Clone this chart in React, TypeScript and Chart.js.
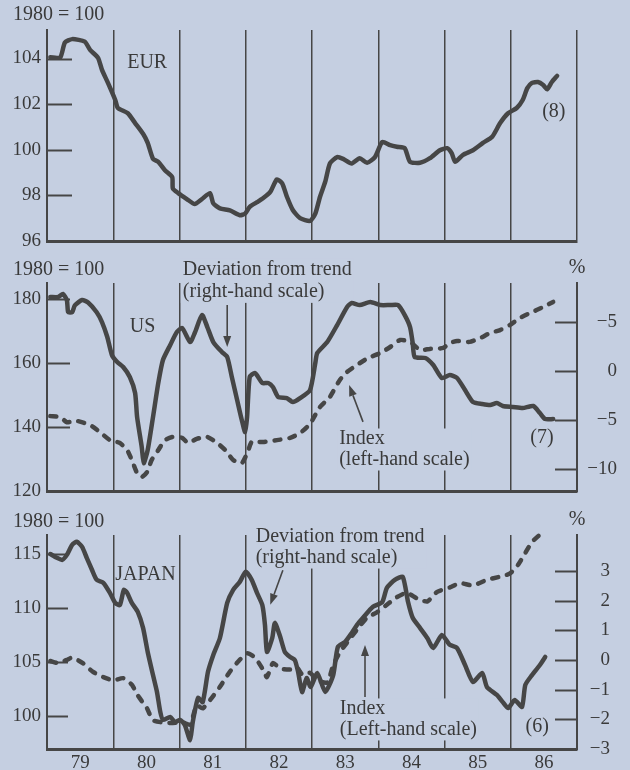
import React, { useEffect, useRef } from "react";
import { Chart, registerables } from "chart.js";
Chart.register(...registerables);

const BG = "#c5cfe1";
const INK = "#464646";
const TEXT = "#3a3a3a";
const FONT = "'Liberation Serif', 'DejaVu Serif', serif";
const FS = 19;
const ANN_FS = 20;

// ---------- X axis (years) ----------
const yearBounds = [1979, 1980, 1981, 1982, 1983, 1984, 1985, 1986, 1987];
const yearLabels = ["79", "80", "81", "82", "83", "84", "85", "86"];

// ---------- EUR (index, 1980 = 100) ----------
const eurX = [1979.05, 1979.2, 1979.27, 1979.38, 1979.57, 1979.65, 1979.77, 1979.83, 1979.92, 1980.03, 1980.07, 1980.22, 1980.33, 1980.45, 1980.52, 1980.6, 1980.68, 1980.78, 1980.89, 1980.9, 1980.98, 1981.11, 1981.23, 1981.34, 1981.46, 1981.51, 1981.61, 1981.76, 1981.91, 1981.99, 1982.06, 1982.17, 1982.26, 1982.37, 1982.47, 1982.55, 1982.62, 1982.71, 1982.82, 1982.97, 1983.05, 1983.12, 1983.2, 1983.27, 1983.38, 1983.47, 1983.6, 1983.72, 1983.83, 1983.95, 1984.06, 1984.18, 1984.28, 1984.4, 1984.48, 1984.63, 1984.78, 1984.93, 1985.04, 1985.11, 1985.16, 1985.28, 1985.43, 1985.58, 1985.72, 1985.84, 1985.96, 1986.09, 1986.18, 1986.25, 1986.32, 1986.41, 1986.49, 1986.55, 1986.62, 1986.7];
const eurIndex = [104.06, 104.05, 104.7, 104.85, 104.74, 104.38, 104.03, 103.5, 102.93, 102.18, 101.83, 101.6, 101.17, 100.7, 100.3, 99.6, 99.47, 99.1, 98.8, 98.3, 98.1, 97.84, 97.62, 97.84, 98.1, 97.65, 97.43, 97.34, 97.13, 97.2, 97.5, 97.7, 97.87, 98.15, 98.7, 98.53, 97.95, 97.36, 97.0, 96.88, 97.2, 97.93, 98.6, 99.4, 99.68, 99.6, 99.4, 99.63, 99.43, 99.68, 100.34, 100.2, 100.13, 100.07, 99.47, 99.43, 99.63, 99.98, 100.07, 99.84, 99.47, 99.78, 99.98, 100.3, 100.57, 101.17, 101.6, 101.83, 102.18, 102.7, 102.93, 102.97, 102.84, 102.65, 102.97, 103.24];

// ---------- US ----------
const usDevX = [1979.05, 1979.17, 1979.24, 1979.3, 1979.32, 1979.38, 1979.42, 1979.53, 1979.62, 1979.75, 1979.83, 1979.91, 1979.98, 1980.06, 1980.15, 1980.25, 1980.33, 1980.36, 1980.43, 1980.46, 1980.52, 1980.6, 1980.68, 1980.75, 1980.86, 1980.96, 1981.04, 1981.16, 1981.23, 1981.34, 1981.42, 1981.51, 1981.64, 1981.72, 1981.79, 1981.87, 1981.94, 1981.99, 1982.02, 1982.06, 1982.14, 1982.25, 1982.34, 1982.41, 1982.49, 1982.62, 1982.71, 1982.82, 1982.97, 1983.05, 1983.08, 1983.23, 1983.38, 1983.53, 1983.6, 1983.72, 1983.88, 1984.03, 1984.18, 1984.3, 1984.4, 1984.48, 1984.52, 1984.55, 1984.71, 1984.83, 1984.96, 1985.08, 1985.19, 1985.31, 1985.43, 1985.57, 1985.69, 1985.79, 1985.88, 1986.03, 1986.18, 1986.34, 1986.44, 1986.52, 1986.64];
const usDeviation = [7.55, 7.55, 7.86, 7.24, 6.0, 6.0, 6.7, 7.24, 7.0, 6.0, 5.0, 3.47, 1.63, 0.92, 0.41, -0.61, -2.24, -4.7, -7.76, -9.4, -8.06, -4.7, -1.22, 1.12, 2.65, 3.98, 4.39, 2.96, 3.88, 5.71, 4.49, 2.96, 1.94, 1.43, -0.61, -2.96, -5.0, -6.22, -4.7, -0.61, -0.2, -1.22, -1.22, -1.63, -2.65, -2.76, -3.16, -2.76, -1.94, 0.82, 1.84, 2.96, 4.69, 6.53, 6.94, 6.73, 7.04, 6.73, 6.73, 6.73, 5.71, 4.49, 2.86, 1.43, 1.33, 0.61, -0.71, -0.41, -0.71, -1.94, -3.16, -3.37, -3.47, -3.27, -3.57, -3.67, -3.78, -3.57, -4.29, -4.9, -4.9];
const usIdxX = [1979.05, 1979.2, 1979.3, 1979.45, 1979.65, 1979.8, 1979.95, 1980.1, 1980.21, 1980.28, 1980.36, 1980.43, 1980.51, 1980.58, 1980.68, 1980.78, 1980.9, 1981.04, 1981.13, 1981.26, 1981.42, 1981.57, 1981.69, 1981.81, 1981.94, 1982.03, 1982.09, 1982.26, 1982.47, 1982.67, 1982.82, 1982.97, 1983.12, 1983.27, 1983.42, 1983.53, 1983.68, 1983.85, 1984.03, 1984.18, 1984.33, 1984.48, 1984.63, 1984.78, 1984.98, 1985.08, 1985.19, 1985.38, 1985.54, 1985.69, 1985.84, 1985.99, 1986.14, 1986.29, 1986.49, 1986.64];
const usIndex = [143.4, 143.1, 141.5, 141.9, 140.6, 138.4, 135.9, 135.0, 132.8, 129.7, 125.6, 124.4, 125.9, 129.7, 132.8, 135.9, 136.9, 136.6, 135.0, 136.3, 136.9, 135.0, 132.8, 129.7, 128.75, 132.2, 135.3, 135.3, 135.9, 136.6, 138.1, 141.0, 146.25, 149.4, 154.7, 157.2, 159.4, 161.6, 163.1, 165.0, 167.2, 166.6, 164.1, 164.4, 164.7, 166.25, 166.9, 166.6, 167.8, 169.4, 170.3, 171.9, 174.1, 175.6, 177.5, 179.1];

// ---------- JAPAN ----------
const jpDevX = [1979.05, 1979.15, 1979.23, 1979.3, 1979.38, 1979.45, 1979.53, 1979.6, 1979.68, 1979.75, 1979.85, 1979.95, 1980.03, 1980.1, 1980.16, 1980.21, 1980.28, 1980.37, 1980.45, 1980.52, 1980.6, 1980.66, 1980.71, 1980.75, 1980.86, 1980.93, 1981.01, 1981.08, 1981.16, 1981.2, 1981.28, 1981.35, 1981.43, 1981.51, 1981.61, 1981.72, 1981.81, 1981.91, 1982.0, 1982.09, 1982.17, 1982.25, 1982.29, 1982.32, 1982.4, 1982.44, 1982.52, 1982.59, 1982.67, 1982.74, 1982.79, 1982.85, 1982.92, 1982.98, 1983.08, 1983.2, 1983.32, 1983.39, 1983.5, 1983.6, 1983.68, 1983.77, 1983.92, 1984.06, 1984.13, 1984.25, 1984.37, 1984.45, 1984.52, 1984.63, 1984.74, 1984.83, 1984.96, 1985.08, 1985.19, 1985.31, 1985.43, 1985.57, 1985.64, 1985.79, 1985.88, 1985.96, 1986.06, 1986.17, 1986.22, 1986.32, 1986.44, 1986.52];
const jpDeviation = [3.57, 3.44, 3.37, 3.54, 3.88, 3.98, 3.81, 3.44, 3.03, 2.7, 2.6, 2.26, 1.92, 1.85, 2.36, 2.26, 1.92, 1.62, 1.08, 0.27, -0.51, -1.08, -1.75, -2.02, -1.92, -2.09, -2.02, -2.19, -2.7, -2.09, -1.28, -1.42, -0.4, 0.17, 0.74, 1.92, 2.36, 2.63, 2.97, 2.7, 2.26, 1.85, 1.18, 0.27, 0.74, 1.25, 0.78, 0.27, 0.1, 0.0, -0.4, -1.08, -0.61, -0.91, -0.44, -1.08, -0.51, 0.44, 0.61, 0.91, 1.18, 1.42, 1.79, 1.95, 2.43, 2.7, 2.8, 1.95, 1.42, 1.08, 0.74, 0.4, 0.84, 0.51, 0.4, -0.17, -0.74, -0.44, -0.91, -1.18, -1.42, -1.62, -1.35, -1.58, -0.84, -0.51, -0.17, 0.1];
const jpIdxX = [1979.05, 1979.17, 1979.3, 1979.38, 1979.54, 1979.69, 1979.85, 1980.0, 1980.15, 1980.28, 1980.37, 1980.51, 1980.6, 1980.75, 1980.9, 1981.05, 1981.16, 1981.26, 1981.35, 1981.49, 1981.61, 1981.76, 1981.88, 1982.02, 1982.14, 1982.26, 1982.32, 1982.41, 1982.52, 1982.67, 1982.77, 1982.86, 1982.97, 1983.08, 1983.23, 1983.32, 1983.42, 1983.53, 1983.68, 1983.83, 1983.98, 1984.13, 1984.28, 1984.43, 1984.58, 1984.74, 1984.89, 1985.08, 1985.23, 1985.43, 1985.64, 1985.84, 1985.99, 1986.11, 1986.22, 1986.32, 1986.44];
const jpIndex = [105.09, 104.9, 105.2, 105.4, 104.9, 104.1, 103.6, 103.3, 103.5, 102.9, 101.9, 100.7, 99.6, 99.4, 99.35, 99.4, 99.2, 101.0, 100.7, 101.7, 102.7, 104.1, 105.0, 105.8, 105.4, 104.3, 103.6, 104.9, 104.4, 104.3, 104.5, 103.8, 104.0, 103.3, 103.1, 104.7, 105.9, 106.8, 108.0, 109.1, 109.6, 110.3, 111.0, 111.4, 110.9, 110.6, 111.5, 111.9, 112.3, 112.1, 112.6, 112.9, 113.2, 114.0, 115.1, 116.1, 116.8];

// ---------- tick values / labels ----------
const eurTicks = [96, 98, 100, 102, 104];
const eurTickLabels = ["96", "98", "100", "102", "104"];
const usLeftTicks = [120, 140, 160, 180];
const usLeftLabels = ["120", "140", "160", "180"];
const usRightTicks = [-10, -5, 0, 5];
const usRightLabels = ["\u221210", "\u22125", "0", "\u22125"];
const jpLeftTicks = [100, 105, 110, 115];
const jpLeftLabels = ["100", "105", "110", "115"];
const jpRightTicks = [-3, -2, -1, 0, 1, 2, 3];
const jpRightLabels = ["\u22123", "\u22122", "\u22121", "0", "1", "2", "3"];

type Ann = { lines: string[]; x: number; y: number; align: CanvasTextAlign; lh?: number; bg?: boolean };
type Arrow = { from: [number, number]; to: [number, number] };
type Series = { xs: number[]; ys: number[]; axis: "yL" | "yR"; dashed: boolean };
type AxisCfg = { min: number; max: number; ticks: number[]; labels: string[]; inner: number[]; len: number; width: number; padding: number };
type PanelCfg = {
  top: number; height: number; areaTop: number; areaBottom: number; showYears: boolean;
  left: AxisCfg; right?: AxisCfg; rightPad: number;
  series: Series[]; anns: Ann[]; arrows: Arrow[];
  leftTitleY: number; rightTitleY?: number;
};

const panels: PanelCfg[] = [
  {
    top: 0, height: 250, areaTop: 30, areaBottom: 241, showYears: false,
    left: { min: 96, max: 105.25, ticks: eurTicks, labels: eurTickLabels, inner: [98, 100, 102, 104], len: 25, width: 47, padding: 6 },
    rightPad: 53,
    series: [{ xs: eurX, ys: eurIndex, axis: "yL", dashed: false }],
    anns: [
      { lines: ["EUR"], x: 1980.21, y: 103.8, align: "left" },
      { lines: ["(8)"], x: 1986.65, y: 101.66, align: "center" },
    ],
    arrows: [],
    leftTitleY: 15,
  },
  {
    top: 250, height: 255, areaTop: 33, areaBottom: 241, showYears: false,
    left: { min: 120, max: 185, ticks: usLeftTicks, labels: usLeftLabels, inner: [140, 160, 180], len: 23, width: 47, padding: 6 },
    right: { min: -12.24, max: 8.98, ticks: usRightTicks, labels: usRightLabels, inner: [-10, -5, 0, 5], len: 22, width: 40, padding: 6 },
    rightPad: 13,
    series: [
      { xs: usIdxX, ys: usIndex, axis: "yL", dashed: true },
      { xs: usDevX, ys: usDeviation, axis: "yR", dashed: false },
    ],
    anns: [
      { lines: ["US"], x: 1980.25, y: 171.25, align: "left" },
      { lines: ["Deviation from trend", "(right-hand scale)"], x: 1981.05, y: 189.1, align: "left", lh: 22, bg: true },
      { lines: ["Index", "(left-hand scale)"], x: 1983.41, y: 136.25, align: "left", lh: 21, bg: true },
      { lines: ["(7)"], x: 1986.47, y: 136.6, align: "center" },
    ],
    arrows: [
      { from: [1981.72, 178.1], to: [1981.72, 165] },
      { from: [1983.77, 141.6], to: [1983.56, 153.1] },
    ],
    leftTitleY: 20, rightTitleY: 18,
  },
  {
    top: 505, height: 265, areaTop: 30, areaBottom: 244, showYears: true,
    left: { min: 96.94, max: 116.76, ticks: jpLeftTicks, labels: jpLeftLabels, inner: [100, 105, 110, 115], len: 21, width: 47, padding: 6 },
    right: { min: -3, max: 4.21, ticks: jpRightTicks, labels: jpRightLabels, inner: [-3, -2, -1, 0, 1, 2, 3], len: 22, width: 33, padding: 6 },
    rightPad: 20,
    series: [
      { xs: jpIdxX, ys: jpIndex, axis: "yL", dashed: true },
      { xs: jpDevX, ys: jpDeviation, axis: "yR", dashed: false },
    ],
    anns: [
      { lines: ["JAPAN"], x: 1980.03, y: 113.06, align: "left" },
      { lines: ["Deviation from trend", "(right-hand scale)"], x: 1982.15, y: 116.57, align: "left", lh: 21, bg: true },
      { lines: ["Index", "(Left-hand scale)"], x: 1983.42, y: 100.65, align: "left", lh: 21, bg: true },
      { lines: ["(6)"], x: 1986.4, y: 98.98, align: "center" },
    ],
    arrows: [
      { from: [1982.56, 113.5], to: [1982.37, 110.3] },
      { from: [1983.8, 101.76], to: [1983.8, 106.57] },
    ],
    leftTitleY: 17, rightTitleY: 15,
  },
];

function makeDecor(cfg: PanelCfg) {
  return {
    id: "decor",
    beforeDatasetsDraw(chart: any) {
      const ctx: CanvasRenderingContext2D = chart.ctx;
      const a = chart.chartArea;
      const xS = chart.scales.x;
      const yL = chart.scales.yL;
      ctx.save();
      ctx.strokeStyle = INK;
      ctx.lineWidth = 2;
      for (const v of cfg.left.inner) {
        const py = Math.round(yL.getPixelForValue(v)) + 0.5;
        ctx.beginPath(); ctx.moveTo(a.left, py); ctx.lineTo(a.left + cfg.left.len, py); ctx.stroke();
      }
      if (cfg.right) {
        const yR = chart.scales.yR;
        for (const v of cfg.right.inner) {
          const py = Math.round(yR.getPixelForValue(v)) + 0.5;
          ctx.beginPath(); ctx.moveTo(a.right - cfg.right.len, py); ctx.lineTo(a.right, py); ctx.stroke();
        }
      }
      ctx.font = `${ANN_FS}px ${FONT}`;
      ctx.fillStyle = BG;
      for (const an of cfg.anns) {
        if (!an.bg) continue;
        const lh = an.lh ?? 21;
        const w = Math.max(...an.lines.map((l) => ctx.measureText(l).width));
        const px = xS.getPixelForValue(an.x);
        const py = yL.getPixelForValue(an.y);
        ctx.fillRect(px - 2, py - lh / 2, w + 4, lh * an.lines.length);
      }
      ctx.restore();
    },
    afterDatasetsDraw(chart: any) {
      const ctx: CanvasRenderingContext2D = chart.ctx;
      const a = chart.chartArea;
      const xS = chart.scales.x;
      const yL = chart.scales.yL;
      ctx.save();
      ctx.font = `${ANN_FS}px ${FONT}`;
      ctx.fillStyle = TEXT;
      ctx.textBaseline = "middle";
      for (const an of cfg.anns) {
        const lh = an.lh ?? 21;
        const px = xS.getPixelForValue(an.x);
        const py = yL.getPixelForValue(an.y);
        ctx.textAlign = an.align;
        an.lines.forEach((l, i) => ctx.fillText(l, px, py + i * lh));
      }
      ctx.textAlign = "left";
      ctx.fillText("1980 = 100", 13, cfg.leftTitleY);
      if (cfg.rightTitleY !== undefined) {
        ctx.textAlign = "center";
        ctx.fillText("%", a.right, cfg.rightTitleY);
      }
      ctx.strokeStyle = INK;
      ctx.fillStyle = INK;
      ctx.lineWidth = 1.6;
      for (const ar of cfg.arrows) {
        const x0 = xS.getPixelForValue(ar.from[0]);
        const y0 = yL.getPixelForValue(ar.from[1]);
        const x1 = xS.getPixelForValue(ar.to[0]);
        const y1 = yL.getPixelForValue(ar.to[1]);
        const ang = Math.atan2(y1 - y0, x1 - x0);
        const hl = 11, hw = 4;
        const bx = x1 - hl * Math.cos(ang), by = y1 - hl * Math.sin(ang);
        ctx.beginPath(); ctx.moveTo(x0, y0); ctx.lineTo(bx, by); ctx.stroke();
        ctx.beginPath();
        ctx.moveTo(x1, y1);
        ctx.lineTo(bx + hw * Math.sin(ang), by - hw * Math.cos(ang));
        ctx.lineTo(bx - hw * Math.sin(ang), by + hw * Math.cos(ang));
        ctx.closePath(); ctx.fill();
      }
      ctx.restore();
    },
  };
}

function buildXTicks(): number[] {
  const out: number[] = [];
  for (let i = 0; i < yearBounds.length; i++) {
    out.push(yearBounds[i]);
    if (i < yearLabels.length) out.push((yearBounds[i] + yearBounds[i + 1]) / 2);
  }
  return out;
}

function xLabel(v: number): string {
  for (let i = 0; i < yearLabels.length; i++) {
    if (Math.abs((yearBounds[i] + yearBounds[i + 1]) / 2 - v) < 1e-6) return yearLabels[i];
  }
  return "";
}

function yAxis(ax: AxisCfg, position: "left" | "right") {
  return {
    type: "linear",
    position,
    min: ax.min,
    max: ax.max,
    afterBuildTicks: (s: any) => { s.ticks = ax.ticks.map((v) => ({ value: v })); },
    afterFit: (s: any) => { s.width = ax.width; s.paddingTop = 0; s.paddingBottom = 0; },
    grid: { display: false, drawTicks: false },
    border: { display: true, color: INK, width: 2 },
    ticks: {
      padding: ax.padding,
      crossAlign: position === "left" ? "near" : "far",
      color: TEXT,
      font: { family: FONT, size: FS },
      callback: (v: number) => {
        const i = ax.ticks.indexOf(v);
        return i >= 0 ? ax.labels[i] : "";
      },
    },
  };
}

function Panel({ cfg }: { cfg: PanelCfg }) {
  const ref = useRef<HTMLCanvasElement>(null);
  useEffect(() => {
    const xTicks = buildXTicks();
    const scales: any = {
      x: {
        type: "linear",
        min: yearBounds[0],
        max: yearBounds[yearBounds.length - 1],
        afterBuildTicks: (s: any) => { s.ticks = xTicks.map((v) => ({ value: v })); },
        afterFit: (s: any) => { s.height = cfg.height - cfg.areaBottom; s.paddingLeft = 0; s.paddingRight = 0; },
        grid: {
          drawTicks: false,
          lineWidth: 1.5,
          color: (c: any) => {
            const v = c.tick ? c.tick.value : NaN;
            return Math.abs(v - Math.round(v)) < 1e-6 && v > 1979.5 ? INK : "rgba(0,0,0,0)";
          },
        },
        border: { display: true, color: INK, width: 3 },
        ticks: {
          display: cfg.showYears,
          autoSkip: false,
          maxRotation: 0,
          padding: 3,
          color: TEXT,
          font: { family: FONT, size: FS },
          callback: (v: number) => xLabel(v),
        },
      },
      yL: yAxis(cfg.left, "left"),
    };
    if (cfg.right) scales.yR = yAxis(cfg.right, "right");
    const chart = new Chart(ref.current as HTMLCanvasElement, {
      type: "line",
      data: {
        datasets: cfg.series.map((s) => ({
          data: s.xs.map((x, i) => ({ x, y: s.ys[i] })),
          yAxisID: s.axis,
          borderColor: INK,
          borderWidth: 4.5,
          borderDash: s.dashed ? [6, 9] : [],
          borderCapStyle: "round",
          borderJoinStyle: "round",
          pointRadius: 0,
          tension: 0.2,
          fill: false,
          clip: false,
        })),
      } as any,
      options: {
        responsive: false,
        animation: false,
        devicePixelRatio: 1,
        events: [],
        layout: { padding: { top: cfg.areaTop, left: 0, right: cfg.rightPad, bottom: 0 } },
        plugins: { legend: { display: false }, tooltip: { enabled: false }, title: { display: false } },
        scales,
      } as any,
      plugins: [makeDecor(cfg) as any],
    });
    return () => chart.destroy();
  }, [cfg]);
  return (
    <canvas
      ref={ref}
      width={630}
      height={cfg.height}
      style={{ position: "absolute", left: 0, top: cfg.top, width: 630, height: cfg.height, display: "block" }}
    />
  );
}

export default function App() {
  return (
    <div style={{ position: "absolute", left: 0, top: 0, width: 630, height: 770, background: BG, overflow: "hidden" }}>
      {panels.map((p, i) => (
        <Panel key={i} cfg={p} />
      ))}
    </div>
  );
}
